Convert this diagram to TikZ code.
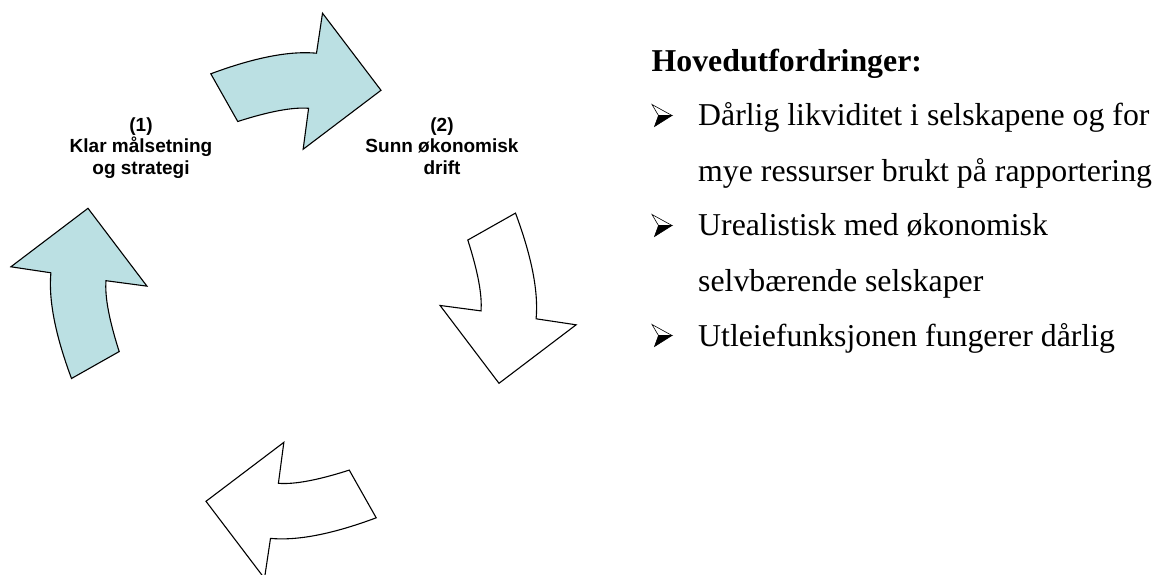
\documentclass[tikz,border=0pt]{standalone}
\usepackage{fontspec}
\setmainfont{Liberation Serif}
\newfontfamily\arialfont{Liberation Sans}
\definecolor{cyclefill}{RGB}{187,224,227}
\tikzset{
  % one segment of the four-part cycle, drawn above the hub and pointing clockwise
  cyclearrow/.pic={
    \path[pic actions]
      (-82.7,-222) .. controls (-39.0,-238.3) and (-3.8,-245.1) .. (23,-242.6)
      -- (29,-282.6) -- (87.5,-205.5) -- (9.65,-146.55) -- (15.1,-187.5)
      .. controls (-0.7,-188.8) and (-24.3,-184.4) .. (-55.75,-174.3) -- cycle;
  },
  % three-dimensional arrowhead bullet, origin at the baseline
  bulletarrow/.pic={
    \fill[black] (6.5,-10.5) -- (20,-10.5) -- (2.5,0.5) -- cycle;
    \draw[black, line width=0.6pt, fill=white, line join=miter]
      (0,-21.5) -- (20,-10.5) -- (6.5,-10.5) -- cycle;
    \draw[black, line width=0.6pt, line join=miter]
      (6.5,-10.5) -- (2.5,0.5) -- (20,-10.5);
  }
}
\begin{document}
\begin{tikzpicture}[x=1pt,y=-1pt,
  segment/.style={draw=black, line width=1.1pt, line join=miter},
  steplabel/.style={font=\arialfont\bfseries\fontsize{19}{21.5}\selectfont,
    align=center, inner sep=0pt, anchor=north},
  heading/.style={font=\bfseries\fontsize{31.8}{38}\selectfont,
    anchor=base west, inner sep=0pt},
  itemline/.style={font=\fontsize{31.8}{38}\selectfont,
    anchor=base west, inner sep=0pt}]
\useasboundingbox (0,0) rectangle (1160,575);
\fill[white] (0,0) rectangle (1160,575);
\clip (0,0) rectangle (1160,575);

\coordinate (hub) at (293.5,295.8);

% the cycle: two completed stages (filled) and two open ones
\pic[segment, fill=cyclefill] at (hub) {cyclearrow};
\pic[segment, fill=cyclefill, rotate=90] at (hub) {cyclearrow};
\pic[segment, fill=white, rotate=180] at (hub) {cyclearrow};
\pic[segment, fill=white, rotate=270] at (hub) {cyclearrow};

\node[steplabel] (goal) at (141,117.5) {(1)\\Klar målsetning\\og strategi};
\node[steplabel] (economy) at (442,117.5) {(2)\\Sunn økonomisk\\drift};

% list of main challenges
\node[heading] (title) at (651.5,72) {Hovedutfordringer:};

\pic at (652,126) {bulletarrow};
\node[itemline] (liquidity) at (698,126) {Dårlig likviditet i selskapene og for};
\node[itemline] (reporting) at (698,181.7) {mye ressurser brukt på rapportering};

\pic at (652,236) {bulletarrow};
\node[itemline] (unrealistic) at (698,236) {Urealistisk med økonomisk};
\node[itemline] (selfsupport) at (698,291.7) {selvbærende selskaper};

\pic at (652,346) {bulletarrow};
\node[itemline] (rental) at (698,346) {Utleiefunksjonen fungerer dårlig};
\end{tikzpicture}
\end{document}
